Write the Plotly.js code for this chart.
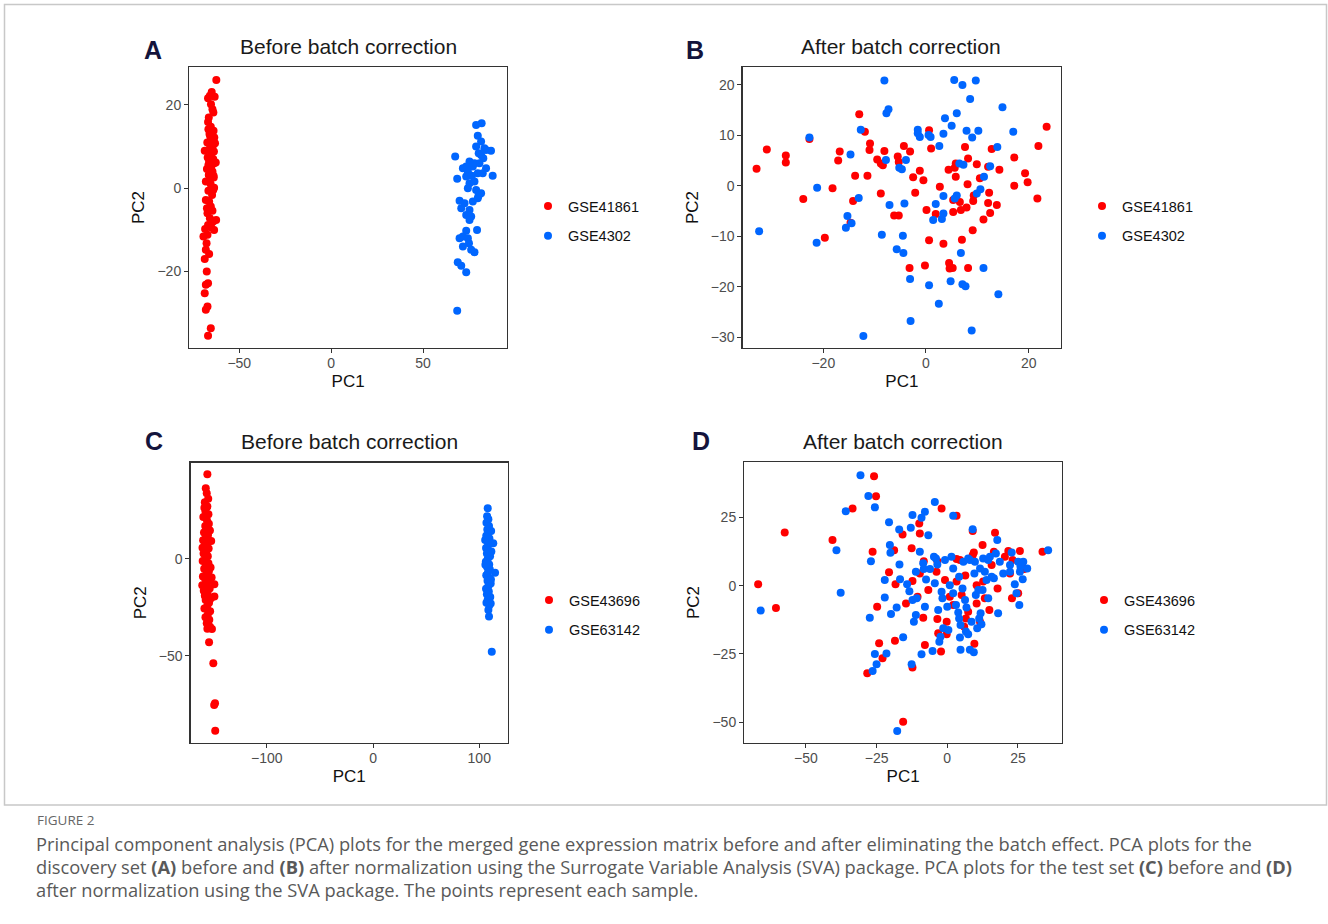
<!DOCTYPE html>
<html>
<head>
<meta charset="utf-8">
<script src="https://cdn.plot.ly/plotly-3.0.1.min.js"></script>
<style>
html,body{margin:0;padding:0;background:#fff;overflow:hidden;}
#chart{width:1328px;height:924px;}
</style>
</head>
<body>
<div id="chart"></div>
<script>
// ---------- Panel A (discovery set, before correction) ----------
const A_series = ['GSE41861', 'GSE4302'];
const A_red_x = [-62.5,-65.0,-66.0,-63.4,-67.0,-64.6,-64.1,-67.0,-65.5,-64.0,-66.2,-63.6,-65.0,-67.4,-64.4,-66.0,-68.8,-63.8,-65.4,-67.2,-64.2,-66.4,-63.7,-65.2,-67.6,-64.6,-66.6,-63.9,-68.2,-65.6,-63.7,-66.8,-64.8,-68.2,-65.5,-67.3,-66.0,-67.0,-65.2,-63.7,-67.3,-69.5,-68.2,-66.4,-68.8,-67.7,-67.0,-68.2,-68.8,-67.3,-68.2,-65.5,-67.0,-66.8,-63.2,-65.8,-64.8,-62.8,-66.8,-64.0,-66.2,-64.2,-66.4,-64.6,-67.6,-64.2,-68.6,-62.6,-67.8,-66.6,-65.4];
const A_red_y = [26.0,23.1,22.2,22.0,21.6,19.0,18.2,15.9,14.8,13.8,13.0,12.2,11.6,11.0,10.2,9.6,9.0,8.8,8.0,7.4,7.0,6.4,6.0,5.2,4.6,4.0,3.2,2.6,1.6,1.0,0.1,-0.6,-1.6,-2.8,-4.4,-6.0,-7.2,-8.8,-9.4,-10.0,-11.2,-11.6,-14.8,-15.8,-17.0,-20.0,-22.8,-23.2,-25.2,-28.4,-29.2,-33.6,-35.4,14.2,10.8,12.4,9.2,6.2,5.6,3.0,2.0,-0.4,-3.2,-5.4,-4.8,-8.0,-9.8,-7.6,-13.2,17.0,20.2];
const A_blue_x = [81.9,78.9,79.8,81.6,78.9,83.4,87.0,80.3,67.5,81.6,84.3,75.3,78.0,80.7,73.5,71.7,77.1,84.3,79.8,87.9,82.5,68.6,73.5,74.4,75.3,78.0,74.4,78.9,81.6,79.8,69.9,72.6,77.1,70.8,75.3,73.5,76.2,75.3,79.4,73.5,71.7,69.9,74.4,75.0,71.7,78.0,76.2,68.9,70.8,73.5,68.6,82.8,76.6,80.2];
const A_blue_y = [15.6,15.2,12.6,11.2,10.0,9.6,9.0,8.4,7.6,8.0,9.2,6.4,6.0,6.0,5.2,4.8,5.2,4.8,3.6,3.0,3.6,2.3,2.8,4.0,1.2,1.6,0.0,-0.4,-1.2,-2.4,-3.0,-3.6,-3.2,-4.8,-5.2,-6.4,-6.8,-7.6,-10.0,-10.2,-11.6,-12.0,-12.0,-13.2,-14.0,-15.4,-14.8,-17.8,-18.6,-20.2,-29.4,7.2,3.0,-1.8];

// ---------- Panel B (discovery set, after correction) ----------
const B_series = ['GSE41861', 'GSE4302'];
const B_red_x = [-33.0,-31.0,-27.3,-27.3,-23.9,-22.7,-18.2,-19.7,-17.1,-16.8,-14.2,-13.8,-13.0,-11.9,-11.4,-10.9,-11.0,-9.5,-8.8,-8.4,-8.1,-8.8,-6.2,-5.3,-5.5,-5.3,-4.3,-3.1,-2.5,-2.1,-1.2,-0.5,0.1,-0.2,-3.2,0.6,0.6,1.0,1.9,2.7,3.4,4.4,4.5,4.6,5.2,5.3,5.3,5.6,5.8,5.8,6.6,6.8,7.0,7.6,7.9,8.2,8.1,8.2,9.1,9.2,9.3,9.9,10.5,11.2,12.1,12.1,12.5,12.3,12.8,13.8,14.3,17.2,17.2,19.3,19.8,21.7,21.9,23.5,-14.7];
const B_red_y = [3.4,7.2,6.0,4.6,-2.6,9.3,-0.5,-10.3,5.0,6.8,-3.0,2.0,14.2,10.7,2.0,8.4,7.1,5.2,4.4,4.1,6.9,-1.5,-5.9,-5.9,5.8,4.7,7.9,6.8,1.7,-1.4,3.0,1.1,-4.8,-15.8,-16.3,-10.8,11.0,7.4,-5.6,-0.2,-11.5,3.2,-15.3,-16.4,-16.3,-5.2,-2.8,3.6,4.4,1.8,-3.2,-4.8,-10.7,7.7,-4.3,5.4,0.3,-16.3,-8.8,-3.0,-1.9,4.3,1.5,-6.7,3.8,-3.4,-5.4,-1.4,7.3,-3.8,3.2,5.6,0.0,2.5,0.7,-2.5,7.9,11.7,-7.3];
const B_blue_x = [-32.5,-22.7,-21.2,-21.3,-15.3,-15.6,-14.5,-14.7,-13.1,-12.7,-12.2,-8.6,-8.1,-7.7,-7.3,-7.8,-7.1,-5.7,-5.2,-4.7,-4.5,-4.4,-4.2,-3.9,-3.1,-3.0,-1.6,-1.6,-1.2,0.5,0.9,0.6,1.9,1.4,2.6,2.5,3.1,3.4,3.4,3.4,3.7,5.0,4.8,5.5,6.0,6.0,5.6,6.5,7.1,7.3,6.8,7.1,7.7,7.9,8.6,8.9,9.0,9.7,10.2,9.9,10.6,11.3,11.2,12.5,13.9,14.1,14.9,17.0];
const B_blue_y = [-9.0,9.6,-0.4,-11.3,-6.0,-8.3,-7.4,6.2,-2.4,11.1,-29.8,-9.7,20.9,14.4,15.2,5.1,-3.8,-12.6,3.6,3.3,-9.9,-13.3,-3.5,5.1,-18.5,-26.8,11.1,10.4,9.7,10.1,9.7,-19.7,-3.6,-6.8,7.9,-23.4,-6.6,-5.5,-2.0,10.3,13.4,11.9,-18.9,21.0,14.4,-1.9,-2.5,4.4,20.0,4.2,-13.3,-19.5,-19.9,10.9,17.2,-28.7,9.6,20.9,10.9,-1.5,-0.7,1.8,-16.3,3.9,7.7,-21.5,15.6,10.7];

// ---------- Panel C (test set, before correction) ----------
const C_series = ['GSE43696', 'GSE63142'];
const C_red_x = [-156.0,-157.5,-156.6,-155.2,-158.4,-156.0,-157.8,-155.0,-159.8,-156.4,-154.6,-158.0,-156.8,-159.2,-155.4,-157.4,-160.0,-152.4,-156.2,-158.6,-154.8,-157.0,-159.6,-155.6,-157.8,-160.4,-155.0,-157.4,-159.0,-154.6,-156.8,-160.2,-158.0,-155.2,-149.4,-157.2,-153.8,-159.4,-155.8,-149.4,-152.6,-157.6,-154.4,-156.2,-158.8,-153.4,-155.6,-157.8,-154.2,-156.6,-153.5,-151.7,-154.4,-150.4,-148.8,-149.6,-148.6,-158.8,-153.6,-160.6,-153.0,-160.8,-152.0,-158.4,-156.0];
const C_red_y = [43.7,36.4,33.9,31.0,29.2,27.0,24.6,23.0,21.6,20.0,18.2,17.0,15.2,13.6,12.4,11.0,9.6,9.2,8.0,6.6,5.4,4.0,2.8,1.4,0.2,-1.0,-2.2,-3.6,-5.0,-6.4,-7.8,-9.0,-10.4,-11.6,-13.0,-13.8,-15.2,-16.4,-17.6,-19.4,-20.2,-21.2,-22.6,-24.4,-25.6,-27.0,-28.6,-30.0,-31.4,-33.2,-34.9,-36.1,-42.9,-53.8,-74.4,-75.3,-88.5,26.4,14.6,5.8,-4.4,-13.6,-9.6,-19.0,-36.0];
const C_blue_x = [108.0,107.4,108.6,106.8,109.2,107.6,108.8,106.6,109.6,107.8,113.2,108.4,106.4,109.0,107.2,110.2,108.0,106.2,109.4,107.4,110.0,114.9,108.2,106.6,109.6,107.8,110.8,108.6,106.4,109.0,107.2,110.4,108.0,106.8,109.4,108.6,109.2,111.8,111.2,105.8,111.0,105.6,111.4,110.8];
const C_blue_y = [26.1,22.0,20.4,18.6,17.0,15.2,13.6,12.0,10.6,9.2,8.1,7.2,5.6,4.2,2.8,1.4,0.0,-1.4,-2.8,-4.2,-5.4,-7.1,-7.0,-8.4,-9.8,-11.2,-12.6,-14.0,-15.4,-16.8,-18.2,-19.6,-21.0,-22.6,-24.0,-26.3,-29.7,-47.8,14.4,-3.0,-10.6,9.8,3.8,-23.0];

// ---------- Panel D (test set, after correction) ----------
const D_series = ['GSE43696', 'GSE63142'];
const D_red_x = [-66.9,-60.6,-57.5,-40.6,-33.5,-26.4,-25.9,-25.2,-24.8,-24.1,-22.9,-28.3,-20.6,-18.8,-18.3,-18.5,-15.8,-15.6,-14.6,-12.6,-12.3,-12.3,-9.9,-9.7,-8.3,-7.9,-6.7,-2.0,-2.2,-3.5,-3.2,-3.5,-0.2,-0.2,0.9,3.3,3.3,3.3,5.1,6.4,6.6,9.0,9.0,9.4,9.6,10.4,10.4,12.5,13.3,14.9,15.7,16.5,16.9,21.6,22.2,22.9,23.1,25.7,27.2,33.7,-3.8,-0.8,2.1,4.5,7.4,12.7,11.6,20.4,25.1,-8.5,-9.7,-10.5,6.0,17.8];
const D_red_y = [0.5,-8.2,19.5,16.7,28.3,12.4,40.1,32.8,-7.7,-21.1,-26.6,-32.1,4.9,13.0,0.5,-20.2,18.8,-49.8,-6.5,13.7,1.7,-30.0,22.8,19.1,9.0,-21.7,-1.6,28.3,-24.1,-12.2,-17.4,9.0,-13.2,-17.8,-4.0,25.6,1.5,9.8,-3.4,3.7,-12.0,20.0,11.2,12.2,-21.3,0.2,-6.5,14.9,-4.6,-8.9,7.6,12.4,19.4,12.7,4.5,-4.6,9.4,12.7,6.1,12.4,5.1,2.1,-7.1,9.4,-9.5,1.5,-13.2,10.6,-2.8,-11.7,4.5,-4.0,-15.0,-1.0];
const D_blue_x = [-66.0,-39.2,-37.7,-35.9,-30.7,-27.9,-27.4,-27.0,-25.6,-26.4,-25.6,-25.0,-22.1,-22.1,-21.5,-20.6,-20.3,-20.1,-19.9,-17.9,-17.7,-17.0,-16.9,-16.7,-15.6,-14.2,-13.4,-12.9,-12.3,-11.8,-12.3,-11.1,-11.1,-10.8,-12.6,-9.7,-9.1,-7.9,-9.1,-8.5,-8.3,-7.9,-7.5,-6.7,-6.1,-5.2,-4.4,-4.4,-4.0,-3.5,-3.2,-2.8,-2.4,-2.0,-1.7,-1.4,-0.8,0.0,0.4,0.9,1.5,2.1,2.1,3.1,3.9,4.2,4.5,4.7,4.7,5.4,5.7,6.3,6.6,6.8,7.4,7.4,8.0,8.6,9.0,9.4,9.6,9.8,10.1,10.6,11.0,11.3,11.8,12.1,12.5,12.7,13.3,13.9,14.5,15.1,15.7,16.5,17.2,17.7,18.0,18.6,19.8,22.2,22.8,23.9,24.5,25.1,25.7,25.9,26.7,28.3,25.5,26.9,35.7,-4.7,2.1,4.2,8.0,11.6,14.5,22.2];
const D_blue_y = [-9.1,13.0,-2.6,27.3,40.5,32.9,-11.7,9.0,28.7,-31.2,-25.0,-28.8,2.1,-4.3,-24.8,23.2,14.9,12.1,-10.4,-8.0,-53.2,20.6,7.8,2.4,-18.9,0.5,-2.0,21.2,25.9,-13.2,-5.2,-10.7,5.1,-4.6,-28.8,12.4,24.9,27.1,-25.1,8.2,6.1,-7.7,2.3,18.5,6.1,-23.9,30.7,0.9,10.0,7.8,-8.9,-20.5,-18.7,-2.2,-4.6,-15.6,9.4,-7.7,-16.2,0.2,10.6,25.6,6.3,-7.1,-9.8,3.3,-19.0,-23.5,-14.4,-1.0,8.8,-5.2,-16.8,-8.0,-17.8,10.0,-23.5,-13.2,20.7,-24.4,4.5,8.8,-3.4,-15.6,-1.6,-12.0,-10.1,-14.1,-1.6,10.0,5.1,2.1,9.4,10.6,3.3,2.7,11.8,16.7,-10.1,8.8,4.5,7.6,12.2,0.5,-2.8,8.8,5.1,7.0,2.4,6.3,-7.1,8.8,13.0,10.6,-2.8,-12.0,9.4,6.3,-4.6,5.1];

// ---------- text ----------
const panelLetters = ['A', 'B', 'C', 'D'];
const panelTitles = ['Before batch correction', 'After batch correction', 'Before batch correction', 'After batch correction'];
const xTitle = 'PC1', yTitle = 'PC2';
const A_xticks = [-50, 0, 50], A_yticks = [-20, 0, 20];
const B_xticks = [-20, 0, 20], B_yticks = [-30, -20, -10, 0, 10, 20];
const C_xticks = [-100, 0, 100], C_yticks = [-50, 0];
const D_xticks = [-50, -25, 0, 25], D_yticks = [-50, -25, 0, 25];
const captionHead = 'FIGURE 2';
const captionLines = [
  'Principal component analysis (PCA) plots for the merged gene expression matrix before and after eliminating the batch effect. PCA plots for the',
  'discovery set <b>(A)</b> before and <b>(B)</b> after normalization using the Surrogate Variable Analysis (SVA) package. PCA plots for the test set <b>(C)</b> before and <b>(D)</b>',
  'after normalization using the SVA package. The points represent each sample.'
];

// ---------- layout helpers ----------
const W = 1328, H = 924;
const px = v => v / W;
const py = v => 1 - v / H;
const RED = '#FF0000', BLUE = '#0066FF';
const FONT = 'Liberation Sans, Arial, sans-serif';
const CAPFONT = 'Open Sans, sans-serif';

function tr(x, y, name, color, xa, ya, leg) {
  return {
    type: 'scatter', mode: 'markers', x: x, y: y, name: name,
    xaxis: xa, yaxis: ya, legend: leg, legendgroup: leg + name,
    marker: {color: color, size: 8, line: {width: 0}},
    hoverinfo: 'x+y+name'
  };
}

const data = [
  tr(A_red_x, A_red_y, A_series[0], RED, 'x', 'y', 'legend'),
  tr(A_blue_x, A_blue_y, A_series[1], BLUE, 'x', 'y', 'legend'),
  tr(B_red_x, B_red_y, B_series[0], RED, 'x2', 'y2', 'legend2'),
  tr(B_blue_x, B_blue_y, B_series[1], BLUE, 'x2', 'y2', 'legend2'),
  tr(C_red_x, C_red_y, C_series[0], RED, 'x3', 'y3', 'legend3'),
  tr(C_blue_x, C_blue_y, C_series[1], BLUE, 'x3', 'y3', 'legend3'),
  tr(D_red_x, D_red_y, D_series[0], RED, 'x4', 'y4', 'legend4'),
  tr(D_blue_x, D_blue_y, D_series[1], BLUE, 'x4', 'y4', 'legend4')
];

function ax(domain, range, tickvals, anchor, title, isY) {
  return {
    domain: domain, range: range, anchor: anchor,
    tickmode: 'array', tickvals: tickvals,
    showgrid: false, zeroline: false,
    showline: true, mirror: true, linecolor: '#333333', linewidth: 1.3,
    ticks: 'outside', ticklen: 4, tickwidth: 1, tickcolor: '#333333',
    ticklabelstandoff: isY ? 0 : -2,
    tickfont: {family: FONT, size: 14, color: '#4d4d4d'},
    title: {text: title, font: {family: FONT, size: 17, color: '#111111'}, standoff: isY ? 8 : 5},
    fixedrange: true
  };
}

// pixel boxes of the four panels
const boxA = {l: 189.3, r: 507, t: 67.3, b: 347.7};
const boxB = {l: 742.7, r: 1061, t: 67.3, b: 347.7};
const boxC = {l: 190.7, r: 507.7, t: 462.7, b: 742.7};
const boxD = {l: 744.3, r: 1062, t: 462.3, b: 742.7};
const dx = b => [px(b.l), px(b.r)];
const dy = b => [py(b.b), py(b.t)];

function legendAt(dotX, midY) {
  return {
    x: px(dotX - 20), y: py(midY), xanchor: 'left', yanchor: 'middle',
    bgcolor: 'rgba(0,0,0,0)', borderwidth: 0,
    font: {family: FONT, size: 14.5, color: '#111111'},
    traceorder: 'grouped', tracegroupgap: 8, itemclick: false, itemdoubleclick: false
  };
}

const annotations = [];
const letterPos = [[153, 50], [695, 50], [154, 441], [701, 441]];
const titlePos = [[348, 46], [901, 46], [349, 441], [903, 441]];
for (let i = 0; i < 4; i++) {
  annotations.push({xref: 'paper', yref: 'paper', x: px(letterPos[i][0]), y: py(letterPos[i][1]),
    xanchor: 'center', yanchor: 'middle', showarrow: false, text: '<b>' + panelLetters[i] + '</b>',
    font: {family: FONT, size: 25, color: '#14143c'}});
  annotations.push({xref: 'paper', yref: 'paper', x: px(titlePos[i][0]), y: py(titlePos[i][1]),
    xanchor: 'center', yanchor: 'middle', showarrow: false, text: panelTitles[i],
    font: {family: FONT, size: 21, color: '#1a1a1a'}});
}
annotations.push({xref: 'paper', yref: 'paper', x: px(35), y: py(820), xanchor: 'left', yanchor: 'middle',
  showarrow: false, text: captionHead, font: {family: CAPFONT, size: 13.5, color: '#666666'}});
const capY = [843, 866, 889];
for (let i = 0; i < 3; i++) {
  annotations.push({xref: 'paper', yref: 'paper', x: px(34), y: py(capY[i]), xanchor: 'left', yanchor: 'middle',
    showarrow: false, text: captionLines[i], font: {family: CAPFONT, size: 18.3, color: '#595959'}});
}

const layout = {
  width: W, height: H, margin: {l: 0, r: 0, t: 0, b: 0},
  paper_bgcolor: '#ffffff', plot_bgcolor: '#ffffff',
  font: {family: FONT},
  showlegend: true,
  xaxis: ax(dx(boxA), [-77.2, 95.7], A_xticks, 'y', xTitle, false),
  yaxis: ax(dy(boxA), [-38.3, 29.05], A_yticks, 'x', yTitle, true),
  xaxis2: ax(dx(boxB), [-35.7, 26.3], B_xticks, 'y2', xTitle, false),
  yaxis2: ax(dy(boxB), [-32.1, 23.5], B_yticks, 'x2', yTitle, true),
  xaxis3: ax(dx(boxC), [-171.7, 126.8], C_xticks, 'y3', xTitle, false),
  yaxis3: ax(dy(boxC), [-94.7, 49.6], C_yticks, 'x3', yTitle, true),
  xaxis4: ax(dx(boxD), [-71.8, 40.6], D_xticks, 'y4', xTitle, false),
  yaxis4: ax(dy(boxD), [-57.5, 45.2], D_yticks, 'x4', yTitle, true),
  legend: legendAt(548, 221),
  legend2: legendAt(1102, 221),
  legend3: legendAt(549, 615),
  legend4: legendAt(1104, 615),
  annotations: annotations,
  shapes: [{type: 'rect', xref: 'paper', yref: 'paper', x0: px(4.5), x1: px(1326.5), y0: py(805), y1: py(4.5),
    line: {color: '#c8c8c8', width: 1.5}, fillcolor: 'rgba(0,0,0,0)', layer: 'below'}]
};

Plotly.newPlot('chart', data, layout, {staticPlot: true, displayModeBar: false});
</script>
</body>
</html>
